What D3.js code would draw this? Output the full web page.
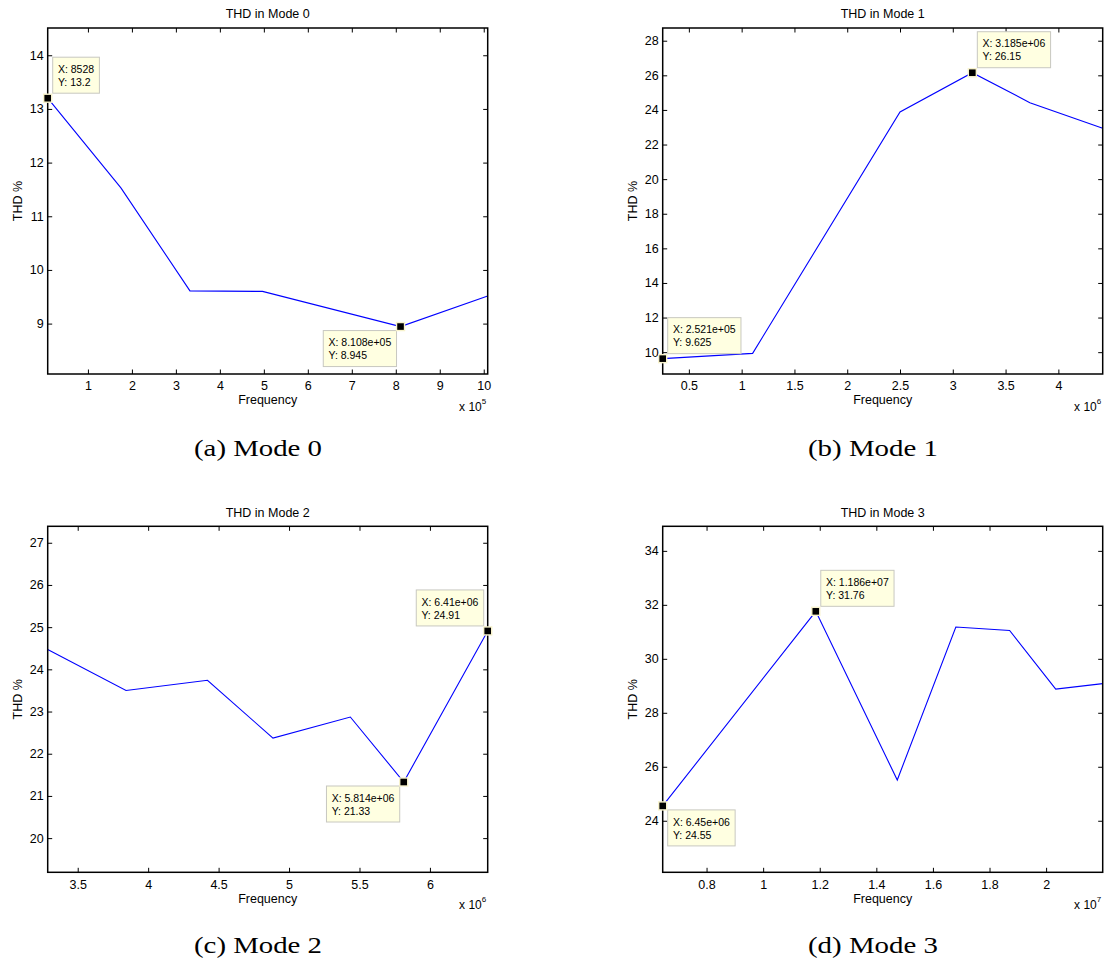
<!DOCTYPE html>
<html><head><meta charset="utf-8">
<script src="https://cdn.jsdelivr.net/npm/d3@7"></script>
<style>
body{margin:0;background:#fff}
svg text{font-family:"Liberation Sans",Arial,Helvetica,sans-serif;fill:#000}
svg text.cap{font-family:"Liberation Serif","Times New Roman",serif}
</style></head><body>
<svg id="fig" width="1104" height="962"></svg>
<script>
// ---------- data ----------
const titles = ["THD in Mode 0", "THD in Mode 1", "THD in Mode 2", "THD in Mode 3"];
const captions = ["(a) Mode 0", "(b) Mode 1", "(c) Mode 2", "(d) Mode 3"];
const xLabel = "Frequency";
const yLabel = "THD %";
const exponents = [5, 6, 6, 7];

const mode0Freq = [8528, 1.75e5, 3.32e5, 4.97e5, 8.108e5, 1.009e6];
const mode0THD  = [13.2, 11.53, 9.61, 9.60, 8.945, 9.515];
const mode1Freq = [2.521e5, 1.104e6, 2.5e6, 3.185e6, 3.73e6, 4.42e6];
const mode1THD  = [9.625, 9.93, 23.88, 26.15, 24.42, 22.94];
const mode2Freq = [3.287e6, 3.843e6, 4.421e6, 4.886e6, 5.435e6, 5.814e6, 6.41e6];
const mode2THD  = [24.47, 23.50, 23.74, 22.37, 22.87, 21.33, 24.91];
const mode3Freq = [6.45e6, 1.186e7, 1.474e7, 1.681e7, 1.871e7, 2.034e7, 2.2e7];
const mode3THD  = [24.55, 31.76, 25.51, 31.18, 31.05, 28.88, 29.08];

const mode0XRange = [8528, 1.009e6];   const mode0YRange = [8.061, 14.508];
const mode1XRange = [2.521e5, 4.42e6]; const mode1YRange = [8.738, 28.735];
const mode2XRange = [3.287e6, 6.41e6]; const mode2YRange = [19.19, 27.39];
const mode3XRange = [6.45e6, 2.2e7];   const mode3YRange = [22.09, 34.91];

const mode0XTicks = [1, 2, 3, 4, 5, 6, 7, 8, 9, 10];
const mode0XTickLabels = ["1", "2", "3", "4", "5", "6", "7", "8", "9", "10"];
const mode0YTicks = [9, 10, 11, 12, 13, 14];
const mode1XTicks = [0.5, 1, 1.5, 2, 2.5, 3, 3.5, 4];
const mode1XTickLabels = ["0.5", "1", "1.5", "2", "2.5", "3", "3.5", "4"];
const mode1YTicks = [10, 12, 14, 16, 18, 20, 22, 24, 26, 28];
const mode2XTicks = [3.5, 4, 4.5, 5, 5.5, 6];
const mode2XTickLabels = ["3.5", "4", "4.5", "5", "5.5", "6"];
const mode2YTicks = [20, 21, 22, 23, 24, 25, 26, 27];
const mode3XTicks = [0.8, 1, 1.2, 1.4, 1.6, 1.8, 2];
const mode3XTickLabels = ["0.8", "1", "1.2", "1.4", "1.6", "1.8", "2"];
const mode3YTicks = [24, 26, 28, 30, 32, 34];

const mode0TipFreq = [8528, 8.108e5];     const mode0TipTHD = [13.2, 8.945];
const mode0TipXText = ["8528", "8.108e+05"]; const mode0TipYText = ["13.2", "8.945"];
const mode1TipFreq = [2.521e5, 3.185e6];  const mode1TipTHD = [9.625, 26.15];
const mode1TipXText = ["2.521e+05", "3.185e+06"]; const mode1TipYText = ["9.625", "26.15"];
const mode2TipFreq = [5.814e6, 6.41e6];   const mode2TipTHD = [21.33, 24.91];
const mode2TipXText = ["5.814e+06", "6.41e+06"]; const mode2TipYText = ["21.33", "24.91"];
const mode3TipFreq = [6.45e6, 1.186e7];   const mode3TipTHD = [24.55, 31.76];
const mode3TipXText = ["6.45e+06", "1.186e+07"]; const mode3TipYText = ["24.55", "31.76"];

// ---------- assemble ----------
const panels = [
  {freq: mode0Freq, thd: mode0THD, xr: mode0XRange, yr: mode0YRange, xt: mode0XTicks, xtl: mode0XTickLabels, yt: mode0YTicks,
   tf: mode0TipFreq, tt: mode0TipTHD, tx: mode0TipXText, ty: mode0TipYText},
  {freq: mode1Freq, thd: mode1THD, xr: mode1XRange, yr: mode1YRange, xt: mode1XTicks, xtl: mode1XTickLabels, yt: mode1YTicks,
   tf: mode1TipFreq, tt: mode1TipTHD, tx: mode1TipXText, ty: mode1TipYText},
  {freq: mode2Freq, thd: mode2THD, xr: mode2XRange, yr: mode2YRange, xt: mode2XTicks, xtl: mode2XTickLabels, yt: mode2YTicks,
   tf: mode2TipFreq, tt: mode2TipTHD, tx: mode2TipXText, ty: mode2TipYText},
  {freq: mode3Freq, thd: mode3THD, xr: mode3XRange, yr: mode3YRange, xt: mode3XTicks, xtl: mode3XTickLabels, yt: mode3YTicks,
   tf: mode3TipFreq, tt: mode3TipTHD, tx: mode3TipXText, ty: mode3TipYText}
];

// ---------- layout / style ----------
const layout = [{l: 47.7, t: 28}, {l: 662.7, t: 28}, {l: 47.7, t: 526.3}, {l: 662.7, t: 526.3}];
const PW = 440, PH = 346;
const tipPlacement = [["ne", "sw"], ["ne", "ne"], ["sw", "nw"], ["se", "ne"]];
const capPos = [{x: 258, y: 456, w: 128}, {x: 873, y: 456, w: 130}, {x: 258, y: 953, w: 128}, {x: 873, y: 953, w: 130}];
const FS = 12.5;

const svg = d3.select("#fig");

panels.forEach((p, i) => {
  const L = layout[i];
  const g = svg.append("g").attr("transform", `translate(${L.l},${L.t})`);
  const k = Math.pow(10, exponents[i]);
  const x = d3.scaleLinear().domain(p.xr).range([0, PW]);
  const y = d3.scaleLinear().domain(p.yr).range([PH, 0]);
  const xv = p.xt.map(v => v * k);

  const styleAxis = sel => { sel.attr("font-size", FS).attr("font-family", null); sel.select(".domain").remove(); };

  g.append("g").attr("transform", `translate(0,${PH})`)
    .call(d3.axisBottom(x).tickValues(xv).tickFormat((d, j) => p.xtl[j]).tickSizeInner(-4.5).tickSizeOuter(0).tickPadding(7.5))
    .call(styleAxis);
  g.append("g")
    .call(d3.axisTop(x).tickValues(xv).tickFormat("").tickSizeInner(-4.5).tickSizeOuter(0))
    .call(styleAxis);
  g.append("g")
    .call(d3.axisLeft(y).tickValues(p.yt).tickFormat(d3.format("d")).tickSizeInner(-4.5).tickSizeOuter(0).tickPadding(4))
    .call(styleAxis);
  g.append("g").attr("transform", `translate(${PW},0)`)
    .call(d3.axisRight(y).tickValues(p.yt).tickFormat("").tickSizeInner(-4.5).tickSizeOuter(0))
    .call(styleAxis);

  g.selectAll(".tick line").attr("stroke", "#000").attr("stroke-width", 1);

  // data line
  const pts = p.freq.map((f, j) => [f, p.thd[j]]);
  g.append("path").datum(pts)
    .attr("fill", "none").attr("stroke", "#0000ff").attr("stroke-width", 1.1)
    .attr("d", d3.line().x(d => x(d[0])).y(d => y(d[1])));

  // box
  g.append("rect").attr("x", 0).attr("y", 0).attr("width", PW).attr("height", PH)
    .attr("fill", "none").attr("stroke", "#000").attr("stroke-width", 1.5);

  // title, labels
  g.append("text").attr("x", PW / 2).attr("y", -9.7).attr("text-anchor", "middle").attr("font-size", FS).text(titles[i]);
  g.append("text").attr("x", PW / 2).attr("y", PH + 30.3).attr("text-anchor", "middle").attr("font-size", FS).text(xLabel);
  g.append("text").attr("transform", `translate(-25.5,${PH / 2}) rotate(-90)`).attr("text-anchor", "middle").attr("font-size", FS).text(yLabel);
  const ex = g.append("text").attr("x", PW - 1.5).attr("y", PH + 37).attr("text-anchor", "end").attr("font-size", 12);
  ex.append("tspan").text("x 10");
  ex.append("tspan").attr("dy", -7).attr("font-size", 8).text(exponents[i]);

  // data tips
  p.tf.forEach((f, j) => {
    const mx = x(f), my = y(p.tt[j]);
    const tg = g.append("g");
    const rect = tg.append("rect").attr("fill", "#ffffe1").attr("stroke", "#c8c8c0").attr("stroke-width", 1);
    const t1 = tg.append("text").attr("font-size", 10.5).text("X: " + p.tx[j]);
    const t2 = tg.append("text").attr("font-size", 10.5).text("Y: " + p.ty[j]);
    const tw = Math.max(t1.node().getComputedTextLength(), t2.node().getComputedTextLength());
    const bw = tw + 10.5, bh = 36;
    const pl = tipPlacement[i][j];
    const bx = pl[1] === "e" ? mx + 5 : mx - 4 - bw;
    const by = pl[0] === "n" ? my - 5 - bh : my + 4;
    rect.attr("x", bx).attr("y", by).attr("width", bw).attr("height", bh);
    t1.attr("x", bx + 5.2).attr("y", by + 15.6);
    t2.attr("x", bx + 5.2).attr("y", by + 28.6);
    g.append("rect").attr("x", mx - 4).attr("y", my - 4).attr("width", 8).attr("height", 8)
      .attr("fill", "#000").attr("stroke", "#f8f3cc").attr("stroke-width", 1.4);
  });

  // caption
  const c = capPos[i];
  svg.append("text").attr("class", "cap").attr("x", c.x).attr("y", c.y).attr("text-anchor", "middle")
    .attr("font-size", 23).attr("textLength", c.w).attr("lengthAdjust", "spacingAndGlyphs").text(captions[i]);
});
</script>
</body></html>
